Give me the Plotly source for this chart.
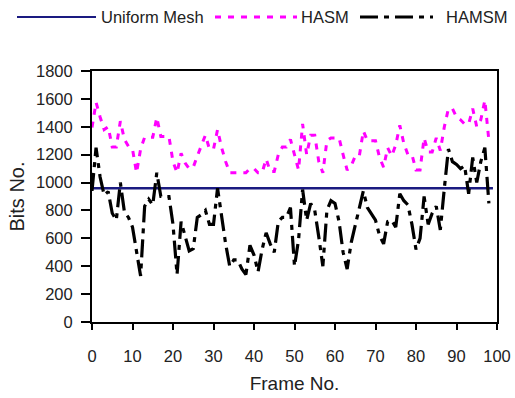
import plotly.graph_objects as go

frames = list(range(0, 99))
uniform_frames = list(range(0, 100))

uniform_mesh = [960] * 100

hasm = [1395, 1575, 1470, 1380, 1400, 1255, 1255, 1440, 1310, 1260,
        1240, 1070, 1240, 1325, 1325, 1325, 1467, 1330, 1330, 1330,
        1150, 1070, 1210, 1140, 1100, 1110, 1190, 1270, 1340, 1240,
        1240, 1380, 1250, 1150, 1070, 1070, 1070, 1070, 1070, 1100,
        1100, 1070, 1070, 1170, 1080, 1080, 1200, 1255, 1255, 1310,
        1190, 1090, 1420, 1200, 1340, 1340, 1150, 1070, 1300, 1320,
        1320, 1320, 1200, 1090, 1120, 1190, 1190, 1370, 1300, 1300,
        1300, 1180, 1110, 1250, 1190, 1270, 1410, 1280, 1200, 1200,
        1090, 1090, 1320, 1220, 1220, 1320, 1230, 1400, 1530, 1530,
        1470, 1450, 1420, 1420, 1530, 1400, 1450, 1590, 1300]

hamsm = [940, 1250, 1040, 910, 935, 780, 730, 1000, 790, 750,
         680, 520, 330, 830, 880, 840, 1070, 900, 900, 900,
         700, 340, 720, 620, 510, 525, 750, 770, 800, 700,
         700, 960, 740, 560, 400, 445, 445, 380, 340, 550,
         480, 360, 520, 640, 560, 500, 720, 750, 750, 820,
         400, 590, 950, 730, 850, 800, 610, 400, 800, 870,
         850, 720, 500, 380, 570, 700, 820, 940, 820, 770,
         730, 620, 560, 720, 730, 680, 920, 870, 840, 700,
         520, 600, 900, 700, 780, 830, 660, 960, 1240, 1150,
         1130, 1100, 1120, 920, 1180, 1000, 1150, 1250, 850]

series_names = ["Uniform Mesh", "HASM", "HAMSM"]
x_ticks = list(range(0, 101, 10))
y_ticks = list(range(0, 1801, 200))

FONT = "Liberation Sans, Arial, sans-serif"
NAVY = "#1a1a80"
MAGENTA = "#ff00ff"
HAMSM_DASH = "18px,6px,5px,6px"
HASM_DASH = "6px,7px"

fig = go.Figure()
fig.add_trace(go.Scatter(x=uniform_frames, y=uniform_mesh, mode="lines", name=series_names[0],
                         line=dict(color=NAVY, width=2.5), showlegend=False))
fig.add_trace(go.Scatter(x=frames, y=hasm, mode="lines", name=series_names[1],
                         line=dict(color=MAGENTA, width=3, dash=HASM_DASH), showlegend=False))
fig.add_trace(go.Scatter(x=frames, y=hamsm, mode="lines", name=series_names[2],
                         line=dict(color="black", width=3.2, dash=HAMSM_DASH), showlegend=False))

# custom legend (paper coordinates)
L, R, T, B = 92, 18, 71, 76
W, H = 515, 398
pw, ph = W - L - R, H - T - B


def px(x):
    return (x - L) / pw


def py(y):
    return (H - B - y) / ph


ly = py(17)
legend_items = [
    (17, 96, 100, dict(color=NAVY, width=2)),
    (215, 297, 300, dict(color=MAGENTA, width=3, dash=HASM_DASH)),
    (360, 433, 445, dict(color="black", width=3, dash=HAMSM_DASH)),
]
for (x0, x1, tx, ln), name in zip(legend_items, series_names):
    fig.add_shape(type="line", xref="paper", yref="paper", x0=px(x0), x1=px(x1),
                  y0=ly, y1=ly, line=ln)
    fig.add_annotation(xref="paper", yref="paper", x=px(tx), y=ly, text=name,
                       showarrow=False, xanchor="left", yanchor="middle",
                       font=dict(family=FONT, size=16.5, color="#222"), borderpad=0)

fig.update_layout(
    width=W, height=H,
    margin=dict(l=L, r=R, t=T, b=B, autoexpand=False),
    plot_bgcolor="white", paper_bgcolor="white",
    font=dict(family=FONT, size=16.5, color="#222"),
    showlegend=False,
)
fig.update_xaxes(range=[0, 100], tickvals=x_ticks, ticks="outside", ticklen=6,
                 tickwidth=2, tickcolor="black", showline=True, linewidth=2,
                 linecolor="black", mirror=True, showgrid=False, zeroline=False,
                 ticklabelstandoff=12, automargin=False,
                 title=dict(text="Frame No.", font=dict(size=19), standoff=13))
fig.update_yaxes(range=[0, 1800], tickvals=y_ticks, ticks="outside", ticklen=9,
                 tickwidth=2, tickcolor="black", showline=True, linewidth=2,
                 linecolor="black", mirror=True, showgrid=False, zeroline=False,
                 ticklabelstandoff=5, automargin=False,
                 title=dict(text="Bits No.", font=dict(size=20), standoff=6))

fig.write_html("out.html")
